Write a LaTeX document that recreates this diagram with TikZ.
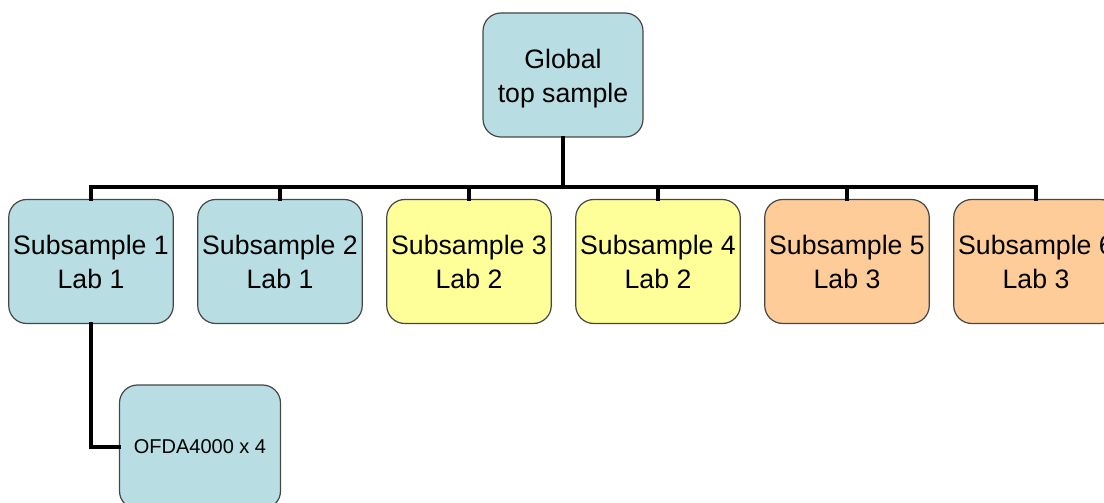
\documentclass[tikz,border=0pt]{standalone}
\usepackage{fontspec}
\setmainfont{Liberation Sans}
\definecolor{boxblue}{RGB}{184,222,227}
\definecolor{boxyellow}{RGB}{255,255,153}
\definecolor{boxorange}{RGB}{253,204,153}
\tikzset{every picture/.style={line width=0.75pt}}
\tikzset{
  samplebox/.style={draw={rgb,255:red,70;green,70;blue,70}, line width=0.9pt, rounded corners=13.5pt,
    minimum width=120.75pt, minimum height=93pt, align=center,
    font=\fontsize{20}{25.5}\selectfont},
  link/.style={line width=3pt, line cap=rect}
}
\begin{document}
\begin{tikzpicture}[x=0.75pt,y=0.75pt,yscale=-1,xscale=1]
	\useasboundingbox (0,0) rectangle (1104,503);
	\clip (0,0) rectangle (1104,503);

	% Top box
	\node [samplebox, fill=boxblue, minimum width=120pt] (top) at (563,75) {\rule{0pt}{20pt}Global\\top sample};

	% Subsample boxes
	\node [samplebox, fill=boxblue] (sub1) at (91,261.5) {Subsample 1\\Lab 1};
	\node [samplebox, fill=boxblue] (sub2) at (280,261.5) {Subsample 2\\Lab 1};
	\node [samplebox, fill=boxyellow] (sub3) at (469,261.5) {Subsample 3\\Lab 2};
	\node [samplebox, fill=boxyellow] (sub4) at (658,261.5) {Subsample 4\\Lab 2};
	\node [samplebox, fill=boxorange] (sub5) at (847,261.5) {Subsample 5\\Lab 3};
	\node [samplebox, fill=boxorange] (sub6) at (1036,261.5) {Subsample 6\\Lab 3};

	% Instrument box
	\node [samplebox, fill=boxblue, font=\fontsize{15}{18}\selectfont] (ofda) at (200,447) {OFDA4000 x 4};

	% Connectors
	\coordinate (bus) at (563,187);
	\draw [link] (top.south) -- (bus);
	\foreach \k in {1,...,6}
	  \draw [link] (bus) -| (sub\k.north);
	\draw [link] (sub1.south) |- (ofda.west);

\end{tikzpicture}
\end{document}
